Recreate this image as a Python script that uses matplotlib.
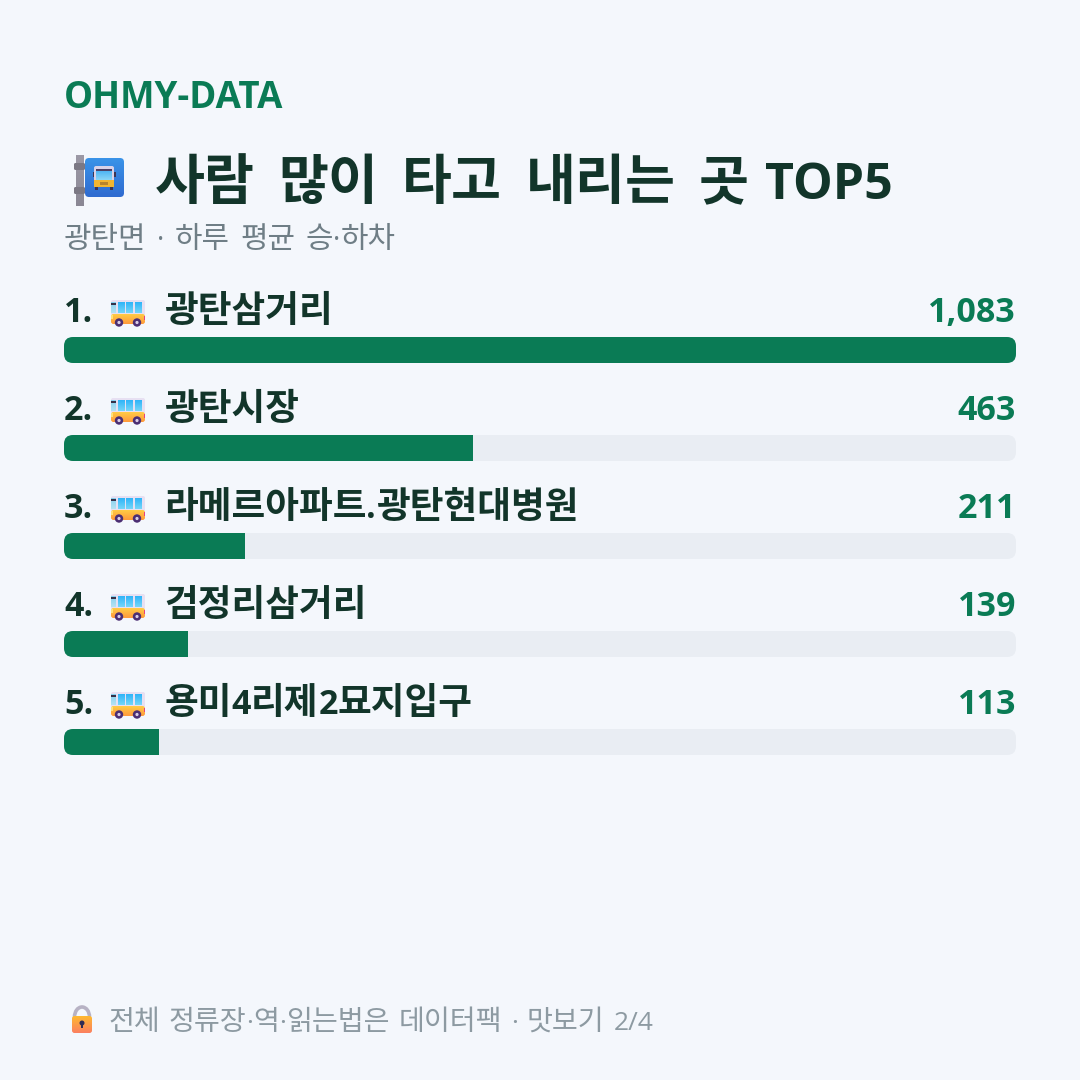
import re

import numpy as np
import matplotlib
matplotlib.use('Agg')
import matplotlib.pyplot as plt
from matplotlib.colors import LinearSegmentedColormap
from matplotlib.patches import FancyBboxPatch, Circle, Rectangle, Arc

# 정류장 데이터
stops = ['광탄삼거리', '광탄시장', '라메르아파트.광탄현대병원', '검정리삼거리', '용미4리제2묘지입구']
riders = np.array([1083, 463, 211, 139, 113])
value_labels = ['1,083', '463', '211', '139', '113']

brand = 'OHMY-DATA'
title = '사람 많이 타고 내리는 곳 TOP5'
subtitle = '광탄면 · 하루 평균 승·하차'
footer = '전체 정류장·역·읽는법은 데이터팩 · 맛보기 2/4'

BG = '#F4F7FC'
GREEN = '#0A7B55'
TRACK = '#E9EDF3'
DARK = '#12352A'
HANGUL_FONT = 'Noto Sans CJK KR'
LATIN_FONT = 'Open Sans'

# 막대 폭은 1위 대비 정수 퍼센트
percent = np.round(riders / riders.max() * 100)

fig = plt.figure(figsize=(10.8, 10.8), dpi=100, facecolor=BG)
renderer = fig.canvas.get_renderer()

# 글자와 아이콘은 픽셀 좌표 레이어에
ax = fig.add_axes([0, 0, 1, 1], zorder=2)
ax.set_xlim(0, 1080)
ax.set_ylim(1080, 0)
ax.axis('off')

# 막대 레이어: x는 퍼센트, y는 픽셀
left, right = 64, 1016
bar_ax = fig.add_axes([left / 1080, 0, (right - left) / 1080, 1], zorder=1)
bar_ax.set_xlim(0, 100)
bar_ax.set_ylim(1080, 0)
bar_ax.axis('off')
px = (right - left) / 100


def mixed_text(x, y, s, hangul_pt, latin_pt, space, color, weight='bold'):
    # 한글과 라틴 글자를 따로 배치하고 공백 폭은 직접 지정
    for run in re.findall(r'[가-힣]+| +|[^가-힣 ]+', s):
        if run.isspace():
            x += space * len(run)
            continue
        is_hangul = re.match(r'[가-힣]', run) is not None
        t = ax.text(x, y, run, color=color, fontweight=weight, va='baseline', ha='left',
                    family=HANGUL_FONT if is_hangul else LATIN_FONT,
                    fontsize=hangul_pt if is_hangul else latin_pt)
        x += t.get_window_extent(renderer).width
    return x


def gradient(x, y, w, h, top_color, bottom_color, clip=None, zorder=3):
    # 세로 그라데이션 사각형
    cmap = LinearSegmentedColormap.from_list('g', [top_color, bottom_color])
    im = ax.imshow(np.linspace(0, 1, 32).reshape(-1, 1), cmap=cmap, aspect='auto',
                   extent=(x, x + w, y + h, y), origin='upper', zorder=zorder)
    if clip is not None:
        im.set_clip_path(clip)
    return im


def rounded(x, y, w, h, r, color='none', zorder=2):
    patch = FancyBboxPatch((x, y), w, h, boxstyle=f'round,pad=0,rounding_size={r}',
                           fc=color, ec='none', zorder=zorder)
    ax.add_patch(patch)
    return patch


def bus(cx, top):
    # 옆모습 버스 이모지
    rounded(cx - 17, top, 34, 16, 2, '#E7E0F2')
    lower = rounded(cx - 17, top + 14, 34, 10, 2.5)
    gradient(cx - 17, top + 14, 34, 10, '#FFCB45', '#FF9A3C', clip=lower)
    for wx in (cx - 10.5, cx - 2, cx + 6.5):
        gradient(wx, top + 2, 7, 11, '#2FB4F8', '#74D6F9')
    gradient(cx - 17, top + 2, 5, 11, '#86D0EE', '#B5E2F2')
    ax.add_patch(Rectangle((cx - 17, top + 3), 4.5, 1.8, fc='#34324A', ec='none', zorder=4))
    ax.add_patch(Rectangle((cx - 17, top + 15), 1.5, 4, fc='#FFE27A', ec='none', zorder=4))
    ax.add_patch(Rectangle((cx + 15.5, top + 16), 1.5, 3.5, fc='#E8407F', ec='none', zorder=4))
    for wx in (cx - 9, cx + 9):
        ax.add_patch(Circle((wx, top + 22.5), 4.2, fc='#4B2E73', ec='none', zorder=5))
        ax.add_patch(Circle((wx, top + 22.5), 1.6, fc='#D9CDE6', ec='none', zorder=6))


def bus_stop():
    # 제목 앞 버스 정류장 표지판
    gradient(76, 155, 8, 51, '#9C99A6', '#8A8794')
    for by in (163, 187):
        rounded(74, by, 11, 7, 1.5, '#7B7884', zorder=4)
    sign = rounded(85, 158, 39, 39, 4, zorder=4)
    gradient(85, 158, 39, 39, '#3A93E8', '#2F6BD0', clip=sign, zorder=4)
    rounded(94, 166, 20, 21, 2, '#D8D2E8', zorder=5)
    ax.add_patch(Rectangle((96, 169), 16, 2, fc='#4A3F66', ec='none', zorder=6))
    gradient(96, 171, 16, 9, '#4FB4F4', '#8AD6F8', zorder=6)
    ax.add_patch(Rectangle((94, 180), 20, 7, fc='#F2B530', ec='none', zorder=6))
    ax.add_patch(Rectangle((100, 182), 8, 2.5, fc='#B9842A', ec='none', zorder=7))
    ax.add_patch(Rectangle((95, 187), 3, 2.5, fc='#3C3554', ec='none', zorder=6))
    ax.add_patch(Rectangle((110, 187), 3, 2.5, fc='#3C3554', ec='none', zorder=6))
    ax.add_patch(Rectangle((92.5, 172), 1.5, 5, fc='#3C3554', ec='none', zorder=6))
    ax.add_patch(Rectangle((114, 172), 1.5, 5, fc='#3C3554', ec='none', zorder=6))


def lock():
    # 하단 자물쇠 이모지
    ax.add_patch(Arc((82, 1017), 15, 20, theta1=180, theta2=360, ec='#B7B2C4', lw=2.6, zorder=3))
    body = rounded(72, 1016, 20, 17, 2.5, zorder=4)
    gradient(72, 1016, 20, 17, '#FFB830', '#FB8060', clip=body, zorder=4)
    ax.add_patch(Circle((82, 1023), 2.5, fc='#2F2C55', ec='none', zorder=5))
    ax.add_patch(Rectangle((81, 1023), 2, 5, fc='#2F2C55', ec='none', zorder=5))


# 머리글
ax.text(64, 108, brand, fontsize=26.4, fontweight='bold', color=GREEN, va='baseline', ha='left',
        family=LATIN_FONT)
bus_stop()
title_head, title_tail = title.rsplit(' ', 1)
title_end = mixed_text(155, 199, title_head, 39.1, 36, 23.5, DARK)
mixed_text(title_end + 16, 199, title_tail, 39.1, 36, 23.5, DARK)
mixed_text(64, 248, subtitle, 21.5, 20, 10.5, '#6F7E86', weight='normal')

# 순위 행
for i, (name, label, pct) in enumerate(zip(stops, value_labels, percent)):
    base_y = 322 + i * 98
    bar_top = 337 + i * 98
    ax.text(64, base_y, f'{i + 1}.', fontsize=24.5, fontweight='bold', color=DARK, va='baseline',
            ha='left', family=LATIN_FONT)
    bus(128, 300 + i * 98)
    mixed_text(164, base_y, name, 26.4, 24.5, 10, DARK)
    ax.text(1016, base_y, label, fontsize=24.5, fontweight='bold', color=GREEN, va='baseline',
            ha='right', family=LATIN_FONT)

    track = FancyBboxPatch((0, bar_top), 100, 26, boxstyle=f'round,pad=0,rounding_size={9 / px}',
                           mutation_aspect=px, fc=TRACK, ec='none')
    bar_ax.add_patch(track)
    bars = bar_ax.barh(bar_top + 13, pct, height=26, left=0, color=GREEN, linewidth=0)
    bars[0].set_clip_path(track)

lock()
mixed_text(108, 1030, footer, 20.3, 19, 9, '#8D9AA2', weight='normal')

# imshow가 바꾼 범위를 되돌림
ax.set_xlim(0, 1080)
ax.set_ylim(1080, 0)

fig.savefig('out.png', dpi=100, facecolor=BG)
